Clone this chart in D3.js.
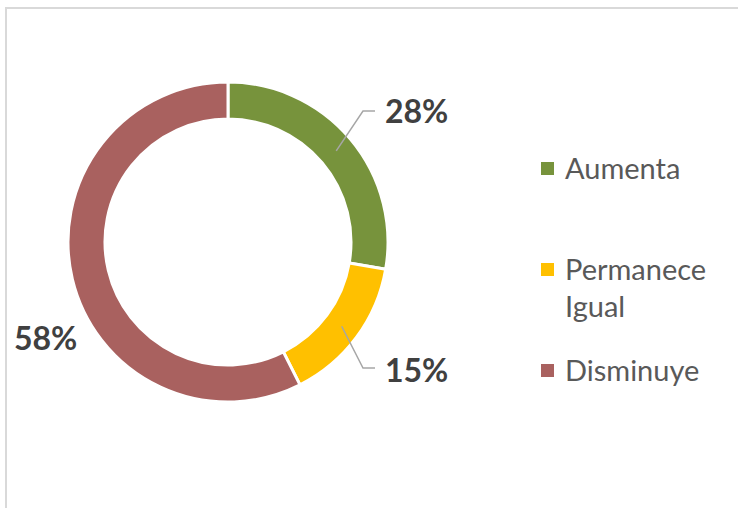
<!DOCTYPE html>
<html><head><meta charset="utf-8">
<script src="https://cdn.jsdelivr.net/npm/d3@7/dist/d3.min.js"></script>
<style>html,body{margin:0;padding:0;background:#fff;}svg{display:block;}</style>
</head><body>
<svg id="chart" width="738" height="508"></svg>
<script>
const categories = ["Aumenta", "Permanece Igual", "Disminuye"];
const values = [28, 15, 58];
const valueLabels = ["28%", "15%", "58%"];
const colors = ["#77933c", "#ffc000", "#a9615f"];

const svg = d3.select("#chart");
const W = 738, H = 508;

// chart border
svg.append("rect").attr("x", 6).attr("y", 8).attr("width", W).attr("height", H)
  .attr("fill", "#fff").attr("stroke", "#d9d9d9").attr("stroke-width", 2);

const cx = 228, cy = 242, rOuter = 160, rInner = 123;
const g = svg.append("g").attr("transform", `translate(${cx},${cy})`);

const pie = d3.pie().sort(null).value(d => d);
const arcs = pie(values);
const arc = d3.arc().innerRadius(rInner).outerRadius(rOuter);
const mid = d3.arc().innerRadius((rInner + rOuter) / 2).outerRadius((rInner + rOuter) / 2);

g.selectAll("path.slice").data(arcs).enter().append("path")
  .attr("class", "slice")
  .attr("d", arc)
  .attr("fill", (d, i) => colors[i])
  .attr("stroke", "#fff").attr("stroke-width", 3);

// labels: layout offsets (relative to chart center)
const labelPos = [
  {elbow: [135, -131], end: [147, -131], text: [157, -119], lead: true},
  {elbow: [135, 126], end: [147, 126], text: [157, 140], lead: true},
  {text: [-214, 108], lead: false}
];
arcs.forEach((d, i) => {
  const p = labelPos[i];
  if (p.lead) {
    const c = mid.centroid(d);
    g.append("polyline")
      .attr("points", [c, p.elbow, p.end].map(q => q.join(",")).join(" "))
      .attr("fill", "none").attr("stroke", "#a6a6a6").attr("stroke-width", 1.5);
  }
  g.append("text").attr("x", p.text[0]).attr("y", p.text[1])
    .attr("font-family", "Lato, 'Open Sans', sans-serif")
    .attr("font-weight", "bold").attr("font-size", 32)
    .attr("fill", "#404040").text(valueLabels[i]);
});

// legend
const legendY = [179, 280, 381];
const lg = svg.append("g");
categories.forEach((c, i) => {
  lg.append("rect").attr("x", 541).attr("y", legendY[i] - 17)
    .attr("width", 13).attr("height", 13).attr("fill", colors[i]);
  const words = c === "Permanece Igual" ? ["Permanece", "Igual"] : [c];
  const t = lg.append("text").attr("x", 565).attr("y", legendY[i])
    .attr("font-family", "Lato, 'Open Sans', sans-serif")
    .attr("font-size", 29).attr("fill", "#595959");
  words.forEach((w, j) => {
    t.append("tspan").attr("x", 565).attr("dy", j === 0 ? 0 : 37).text(w);
  });
});
</script>
</body></html>
